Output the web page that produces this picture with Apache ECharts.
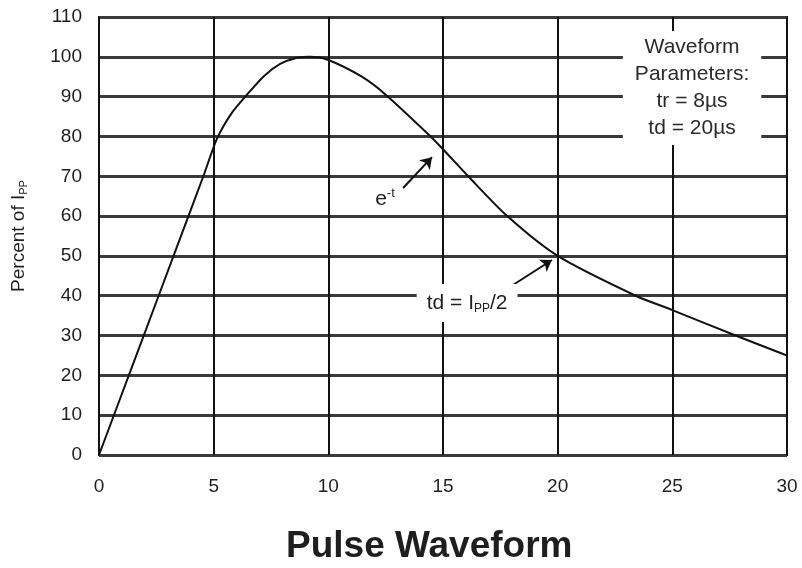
<!DOCTYPE html>
<html>
<head>
<meta charset="utf-8">
<script src="https://cdn.jsdelivr.net/npm/echarts@6/dist/echarts.min.js"></script>
<style>
html,body{margin:0;padding:0;background:#fff;}
#chart{width:802px;height:568px;}
</style>
</head>
<body>
<div id="chart"></div>
<script>
// time in microseconds
const timeUs = [0, 1.3, 2.6, 3.9, 4.55, 5.15, 5.8, 6.5, 7.2, 7.9, 8.6, 9.2, 10, 11.46, 12.5, 14.37, 15, 16.1, 17.8, 20, 23.4, 25, 27.76, 30];
// percent of Ipp
const percent = [0, 20, 40, 60, 70, 79.5, 86, 90.8, 95.2, 98.2, 99.7, 100, 99.2, 95, 90.5, 80.5, 76.8, 70, 60, 50, 40, 36.4, 30, 25];
const xTicks = [0, 5, 10, 15, 20, 25, 30];
const yTicks = [0, 10, 20, 30, 40, 50, 60, 70, 80, 90, 100, 110];

// annotation anchors (data coordinates)
const paramLines = ['Waveform', 'Parameters:', 'tr = 8µs', 'td = 20µs'];
const paramAt = [25.86, 92.2];
const expLabelAt = [12.47, 64.3];
const tdLabelAt = [16.05, 38.2];
const expArrow = [[13.26, 67.05], [14.52, 74.8]];
const tdArrow = [[18.05, 42.7], [19.75, 48.97]];

const FONT = 'Liberation Sans, Arial, sans-serif';
const chart = echarts.init(document.getElementById('chart'), null, {renderer: 'canvas'});
chart.setOption({
  animation: false,
  backgroundColor: '#fff',
  title: {
    text: 'Pulse Waveform',
    left: 281, top: 523,
    textStyle: {fontFamily: FONT, fontSize: 37, fontWeight: 'bold', color: '#1e1e1e'}
  },
  grid: {left: 99, right: 15, top: 17, bottom: 113, show: true, borderColor: '#111', borderWidth: 2, backgroundColor: 'transparent'},
  xAxis: {
    type: 'value', min: xTicks[0], max: xTicks[xTicks.length - 1], interval: 5,
    axisLine: {show: false}, axisTick: {show: false},
    axisLabel: {margin: 22, fontFamily: FONT, fontSize: 19, color: '#1e1e1e'},
    splitLine: {show: true, lineStyle: {color: '#111', width: 2}}
  },
  yAxis: {
    type: 'value', min: yTicks[0], max: yTicks[yTicks.length - 1], interval: 10,
    axisLine: {show: false}, axisTick: {show: false},
    axisLabel: {margin: 17, fontFamily: FONT, fontSize: 19, color: '#1e1e1e'},
    splitLine: {show: true, lineStyle: {color: '#3a3a3a', width: 3}},
    name: 'Percent of I{s|PP}', nameLocation: 'middle', nameRotate: 90, nameGap: 70,
    nameTextStyle: {fontFamily: FONT, fontSize: 19, color: '#1e1e1e',
      rich: {s: {fontFamily: FONT, fontSize: 11, color: '#1e1e1e', verticalAlign: 'bottom', lineHeight: 21}}}
  },
  series: [{
    type: 'line',
    data: timeUs.map((t, i) => [t, percent[i]]),
    smooth: 0.25,
    showSymbol: false,
    lineStyle: {color: '#111', width: 2},
    z: 3,
    markLine: {
      silent: true,
      symbol: ['none', 'arrow'],
      symbolSize: 11,
      label: {show: false},
      lineStyle: {color: '#111', width: 2, type: 'solid'},
      data: [
        [{coord: expArrow[0]}, {coord: expArrow[1]}],
        [{coord: tdArrow[0]}, {coord: tdArrow[1]}]
      ]
    },
    markPoint: {
      silent: true,
      symbol: 'rect',
      symbolSize: 0,
      data: [
        {coord: paramAt, label: {show: true, position: 'inside', formatter: paramLines.join('\n'),
          fontFamily: FONT, fontSize: 21, lineHeight: 27, color: '#2a2a2a', align: 'center',
          backgroundColor: '#fff', padding: [4, 12, 2, 12]}},
        {coord: expLabelAt, label: {show: true, position: 'inside', formatter: 'e{sup|-t}',
          fontFamily: FONT, fontSize: 21, lineHeight: 24, color: '#1e1e1e',
          rich: {sup: {fontFamily: FONT, fontSize: 13, verticalAlign: 'top', lineHeight: 24, color: '#1e1e1e'}}}},
        {coord: tdLabelAt, label: {show: true, position: 'inside', formatter: 'td = I{sub|PP}/2',
          fontFamily: FONT, fontSize: 21, lineHeight: 24, color: '#1e1e1e', backgroundColor: '#fff', padding: [7, 10, 7, 10],
          rich: {sub: {fontFamily: FONT, fontSize: 12, verticalAlign: 'bottom', lineHeight: 22, color: '#1e1e1e'}}}}
      ]
    }
  }]
});
</script>
</body>
</html>
